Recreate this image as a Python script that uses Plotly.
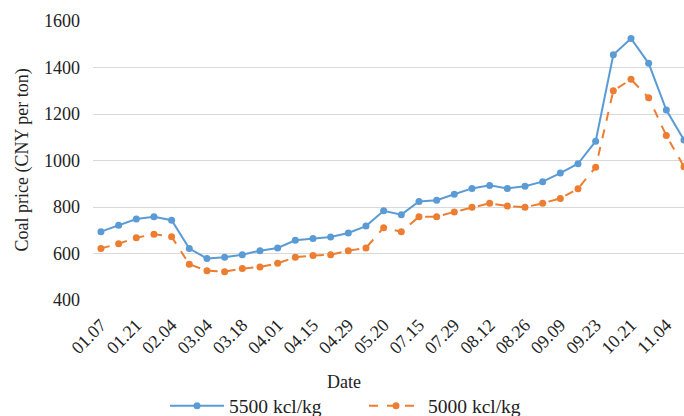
import plotly.graph_objects as go

dates = ["01.07", "01.14", "01.21", "01.28", "02.04", "02.25", "03.04", "03.11", "03.18", "03.25",
         "04.01", "04.08", "04.15", "04.22", "04.29", "05.13", "05.20", "07.08", "07.15", "07.22",
         "07.29", "08.05", "08.12", "08.19", "08.26", "09.02", "09.09", "09.16", "09.23", "10.14",
         "10.21", "10.28", "11.04", "11.11"]
tick_labels = dates[::2]

price_5500 = [694, 721, 748, 758, 743, 621, 579, 584, 595, 612,
              624, 657, 664, 671, 688, 718, 784, 767, 824, 829,
              855, 880, 893, 880, 889, 909, 946, 986, 1083, 1455,
              1525, 1418, 1217, 1088]
price_5000 = [622, 642, 668, 683, 672, 554, 526, 522, 535, 542,
              558, 584, 591, 595, 612, 624, 711, 694, 758, 758,
              779, 799, 816, 804, 799, 816, 837, 879, 971, 1300,
              1349, 1270, 1107, 973]

FONT = "Liberation Serif"
BLUE = "#5b9bd5"
ORANGE = "#ed7d31"
PLOT_L, PLOT_W, PLOT_T, PLOT_H = 93, 591, 21, 279

def px_x(px):
    return (px - PLOT_L) / PLOT_W

def px_y(py):
    return (PLOT_T + PLOT_H - py) / PLOT_H

fig = go.Figure()
fig.add_trace(go.Scatter(x=dates, y=price_5500, name="5500 kcl/kg", mode="lines+markers",
                         line=dict(color=BLUE, width=2), marker=dict(color=BLUE, size=7),
                         legend="legend"))
fig.add_trace(go.Scatter(x=dates, y=price_5000, name="5000 kcl/kg", mode="lines+markers",
                         line=dict(color=ORANGE, width=2, dash="dash"),
                         marker=dict(color=ORANGE, size=7), legend="legend2"))

leg_common = dict(orientation="h", yanchor="middle", xanchor="left",
                  font=dict(size=19.5), bgcolor="rgba(0,0,0,0)", itemwidth=54)

fig.update_layout(
    width=684, height=416,
    margin=dict(l=PLOT_L, r=0, t=PLOT_T, b=416 - PLOT_T - PLOT_H, autoexpand=False),
    paper_bgcolor="white", plot_bgcolor="white",
    font=dict(family=FONT, size=18, color="#222222"),
    showlegend=True,
    legend=dict(x=px_x(165), y=px_y(406), **leg_common),
    legend2=dict(x=px_x(364), y=px_y(406), **leg_common),
    xaxis=dict(type="category", categoryorder="array", categoryarray=dates,
               range=[-0.45, 33.0], tickmode="array", tickvals=tick_labels, ticktext=tick_labels,
               tickangle=-45, showgrid=False, showline=False, zeroline=False,
               automargin=False, tickfont=dict(size=18), ticklabelstandoff=10),
    yaxis=dict(range=[400, 1600], tickvals=[400, 600, 800, 1000, 1200, 1400, 1600],
               showgrid=True, gridcolor="#d9d9d9", gridwidth=1, zeroline=False,
               showline=False, ticklabelstandoff=12, automargin=False,
               tickfont=dict(size=18)),
    annotations=[
        dict(text="Date", xref="paper", yref="paper", x=px_x(344), y=px_y(382),
             xanchor="center", yanchor="middle", showarrow=False, font=dict(size=18)),
        dict(text="Coal price (CNY per ton)", xref="paper", yref="paper", x=px_x(22),
             y=0.5, xanchor="center", yanchor="middle", textangle=-90, showarrow=False,
             font=dict(size=18)),
    ],
)

fig.write_html("out.html", config={"displayModeBar": False},
               post_script="document.body.style.margin='0';")
